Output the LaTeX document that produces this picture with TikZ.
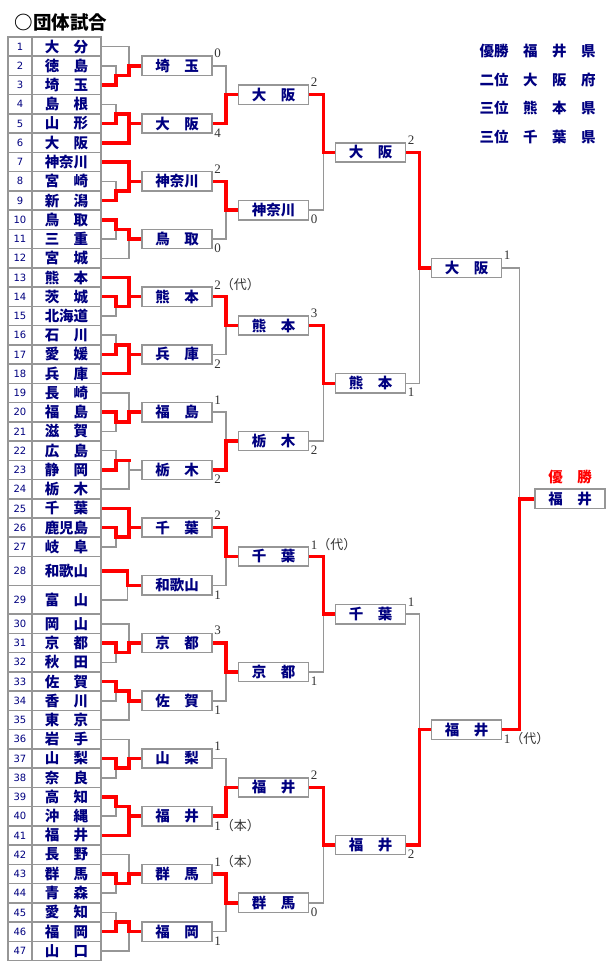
\documentclass[tikz,border=0pt]{standalone}
\usepackage{fontspec}
\setmainfont{Liberation Serif}
\newfontfamily\jp{Noto Sans CJK JP}
\newfontfamily\numfont{DejaVu Sans}
\definecolor{team}{RGB}{0,0,128}
\definecolor{frame}{RGB}{150,150,150}
\definecolor{winred}{RGB}{255,0,0}
\usetikzlibrary{positioning, backgrounds}

\begin{document}
\begin{tikzpicture}[x=1pt, y=-1pt,
    line/.style={draw=frame, line width=1.5pt},
    win/.style={draw=winred, line width=3.5pt, line cap=rect},
    cell/.style={draw=frame, line width=1.5pt, fill=white, inner sep=0pt, text=team},
    tbox/.style={draw=frame, line width=1.5pt, fill=white, inner sep=0pt,
      minimum width=70, minimum height=19.24, text=team,
      font=\jp\bfseries\fontsize{14.5}{15}\selectfont},
    score/.style={inner sep=1.5pt, anchor=west, text=black!80,
      font=\fontsize{13}{13}\selectfont},
    hi/.style={yshift=2pt},
    lo/.style={yshift=1pt}]
    \useasboundingbox (0,0) rectangle (610,970);
    % Title
    \node[anchor=west, font=\jp\bfseries\fontsize{18.5}{19}\selectfont] (title) at (11,22) {○団体試合};
    % Final placings
    \foreach \j/\txt in {1/優勝　福　井　県, 2/二位　大　阪　府, 3/三位　熊　本　県, 4/三位　千　葉　県}
        \node[anchor=west, text=team, font=\jp\bfseries\fontsize{14.5}{15}\selectfont] (lg\j) at (476,{22.3+28.7*\j}) {\txt};
    % Entry table
    \foreach \i/\name in {1/大　分, 2/徳　島, 3/埼　玉, 4/島　根, 5/山　形, 6/大　阪, 7/神奈川, 8/宮　崎,
        9/新　潟, 10/鳥　取, 11/三　重, 12/宮　城, 13/熊　本, 14/茨　城, 15/北海道, 16/石　川,
        17/愛　媛, 18/兵　庫, 19/長　崎, 20/福　島, 21/滋　賀, 22/広　島, 23/静　岡, 24/栃　木,
        25/千　葉, 26/鹿児島, 27/岐　阜, 28/和歌山, 29/富　山, 30/岡　山, 31/京　都, 32/秋　田,
        33/佐　賀, 34/香　川, 35/東　京, 36/岩　手, 37/山　梨, 38/奈　良, 39/高　知, 40/沖　縄,
        41/福　井, 42/長　野, 43/群　馬, 44/青　森, 45/愛　知, 46/福　岡, 47/山　口} {
        \pgfmathsetmacro\yc{37+19.24*ifthenelse(\i<28,\i-0.5,ifthenelse(\i>29,\i+0.5,ifthenelse(\i==28,27.75,29.25)))}
        \pgfmathsetmacro\hc{ifthenelse(and(\i>27,\i<30),28.86,19.24)}
        \node[cell, minimum width=24, minimum height=\hc, font=\numfont\fontsize{10}{10}\selectfont] (k\i) at (20,\yc) {\i};
        \node[cell, minimum width=69, minimum height=\hc, font=\jp\bfseries\fontsize{14.5}{15}\selectfont] (n\i) at (66.5,\yc) {\name};
    }
    % Block winners
    \foreach \k/\name/\pts in {1/埼　玉/0, 2/大　阪/4, 3/神奈川/2, 4/鳥　取/0, 5/熊　本/2\jp（代）, 6/兵　庫/2,
        7/福　島/1, 8/栃　木/2, 9/千　葉/2, 10/和歌山/1, 11/京　都/3, 12/佐　賀/1,
        13/山　梨/1, 14/福　井/1\jp（本）, 15/群　馬/1\jp（本）, 16/福　岡/1} {
        \node[tbox] (ra\k) at (177,{37+19.24*(3*\k-1.5)}) {\name};
        \ifodd\k\relax \node[score, hi] (sa\k) at (ra\k.north east) {\pts};
        \else \node[score, lo] (sa\k) at (ra\k.south east) {\pts}; \fi
    }
    \foreach \k/\name/\pts in {1/大　阪/2, 2/神奈川/0, 3/熊　本/3, 4/栃　木/2,
        5/千　葉/1\jp（代）, 6/京　都/1, 7/福　井/2, 8/群　馬/0} {
        \node[tbox] (rb\k) at (273.5,{37+19.24*(6*\k-3)}) {\name};
        \ifodd\k\relax \node[score, hi] (sb\k) at (rb\k.north east) {\pts};
        \else \node[score, lo] (sb\k) at (rb\k.south east) {\pts}; \fi
    }
    \foreach \k/\name/\pts in {1/大　阪/2, 2/熊　本/1, 3/千　葉/1, 4/福　井/2} {
        \node[tbox] (rc\k) at (370.5,{37+19.24*(12*\k-6)}) {\name};
        \ifodd\k\relax \node[score, hi] (sc\k) at (rc\k.north east) {\pts};
        \else \node[score, lo] (sc\k) at (rc\k.south east) {\pts}; \fi
    }
    \node[tbox] (rd1) at (466.5,{37+19.24*12}) {大　阪};
    \node[score, hi] (sd1) at (rd1.north east) {1};
    \node[tbox] (rd2) at (466.5,{37+19.24*36}) {福　井};
    \node[score, lo] (sd2) at (rd2.south east) {1\jp（代）};
    % Champion
    \node[tbox] (champ) at (570,{37+19.24*24}) {福　井};
    \node[above=1pt of champ, text=winred, font=\jp\bfseries\fontsize{14.5}{15}\selectfont] (yusho) {優　勝};

    \begin{pgfonlayer}{background}
        % blocks of three
        \foreach \k/\L/\pa/\pb/\pw/\w in {1/1/2/3/3/1, 2/6/4/5/5/2, 3/7/8/9/9/2, 4/12/10/11/10/1,
            5/13/14/15/14/2, 6/18/16/17/17/2, 7/19/20/21/20/1, 8/24/22/23/23/0, 9/25/26/27/26/2,
            11/30/31/32/31/1, 12/35/33/34/33/1, 13/36/37/38/37/1, 14/41/39/40/39/2,
            15/42/43/44/43/1, 16/47/45/46/46/1} {
            \path (n\pa.east) -- coordinate (h\k) (n\pb.east);
            \coordinate (j\k) at ([xshift=27pt]h\k);
            \draw[line] (n\pa.east) -- ++(14,0) |- (j\k);
            \draw[line] (n\pb.east) -- ++(14,0) |- (j\k);
            \draw[line] (n\L.east) -| (j\k);
            \draw[line] (j\k) |- (ra\k.west);
            \draw[win] (n\pw.east) -- ++(14,0) |- (j\k);
            \ifnum\w>0 \draw[win] (j\k) |- (ra\k.west); \fi
            \ifnum\w>1 \draw[win] (n\L.east) -| (j\k); \fi
        }
        % block of two
        \coordinate (j10) at ([xshift=-14pt]ra10.west);
        \draw[line] (n29.east) -| (j10);
        \draw[win] (n28.east) -| (j10) -- (ra10.west);
        % later rounds
        \foreach \j/\a/\b/\w in {1/1/2/2, 2/3/4/3, 3/5/6/5, 4/7/8/8, 5/9/10/9, 6/11/12/11, 7/13/14/14, 8/15/16/15} {
            \draw[line] (ra\a.east) -- ++(13,0) |- (rb\j.west);
            \draw[line] (ra\b.east) -- ++(13,0) |- (rb\j.west);
            \draw[win] (ra\w.east) -- ++(13,0) |- (rb\j.west);
        }
        \foreach \j/\a/\b/\w in {1/1/2/1, 2/3/4/3, 3/5/6/5, 4/7/8/7} {
            \draw[line] (rb\a.east) -- ++(14,0) |- (rc\j.west);
            \draw[line] (rb\b.east) -- ++(14,0) |- (rc\j.west);
            \draw[win] (rb\w.east) -- ++(14,0) |- (rc\j.west);
        }
        \foreach \j/\a/\b/\w in {1/1/2/1, 2/3/4/4} {
            \draw[line] (rc\a.east) -- ++(13,0) |- (rd\j.west);
            \draw[line] (rc\b.east) -- ++(13,0) |- (rd\j.west);
            \draw[win] (rc\w.east) -- ++(13,0) |- (rd\j.west);
        }
        \draw[line] (rd1.east) -- ++(17,0) |- (champ.west);
        \draw[win] (rd2.east) -- ++(17,0) |- (champ.west);
    \end{pgfonlayer}
\end{tikzpicture}
\end{document}
